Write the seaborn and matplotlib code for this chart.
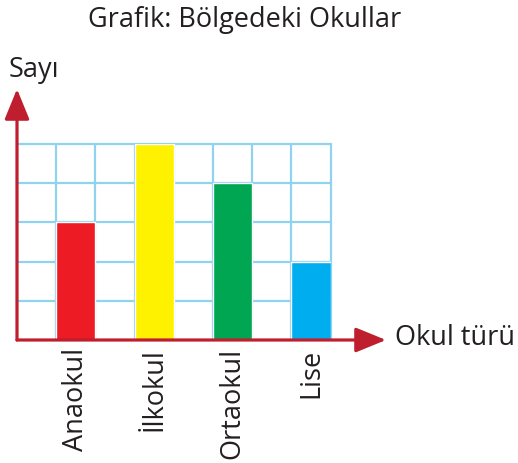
import matplotlib
matplotlib.use("Agg")
import matplotlib.pyplot as plt
import seaborn as sns
import numpy as np

# data
categories = ["Anaokul", "İlkokul", "Ortaokul", "Lise"]
counts = [3, 5, 4, 2]
bar_colors = ["#ed1c24", "#fff200", "#00a651", "#00aeef"]

title = "Grafik: Bölgedeki Okullar"
y_label = "Sayı"
x_label = "Okul türü"

sns.set_style("white")
plt.rcParams['font.family'] = ['Open Sans', 'DejaVu Sans']
FS = 19.5

W, H = 518, 463
fig = plt.figure(figsize=(W / 100, H / 100), dpi=100)
# axes box = grid area in pixels
gx0, gx1, gy0, gy1 = 17, 330.5, 144, 340
ax = fig.add_axes([gx0 / W, (H - gy1) / H, (gx1 - gx0) / W, (gy1 - gy0) / H])

grid_col = "#8fd3ef"
axis_col = "#be1e2d"
ymax = max(counts)
xlo, xhi = -0.75, len(categories) - 0.75

# grid
for yy in range(1, ymax + 1):
    ax.plot([xlo, xhi], [yy, yy], color=grid_col, lw=1.6, zorder=1, clip_on=False)
for xx in np.arange(xlo + 0.5, xhi + 0.01, 0.5):
    ax.plot([xx, xx], [0, ymax], color=grid_col, lw=1.6, zorder=1, clip_on=False)

sns.barplot(x=categories, y=counts, hue=categories, palette=bar_colors,
            width=0.5, saturation=1, legend=False, ax=ax, zorder=2)

ax.set_xlim(xlo, xhi)
ax.set_ylim(0, ymax)
for s in ax.spines.values():
    s.set_visible(False)
ax.set_yticks([])
ax.tick_params(axis="x", length=0, pad=6)
ax.set_xticks(range(len(categories)))
ax.set_xticklabels(categories, rotation=90, fontsize=FS, color="#231f20")
ax.set_xlabel("")
ax.set_ylabel("")

# red axes with arrows
x_tip = xlo + (386 - gx0) / ((gx1 - gx0) / (xhi - xlo))
y_tip = (gy1 - 89) / ((gy1 - gy0) / ymax)
arrow = dict(arrowstyle="-|>,head_length=1.1,head_width=0.45", color=axis_col,
             lw=2.3, mutation_scale=17, shrinkA=0, shrinkB=0)
ax.annotate("", xy=(x_tip, 0), xytext=(xlo, 0), arrowprops=arrow,
            annotation_clip=False, zorder=5)
ax.annotate("", xy=(xlo, y_tip), xytext=(xlo, 0), arrowprops=arrow,
            annotation_clip=False, zorder=5)

fig.text(245 / W, 1 - 20 / H, title, ha="center", va="center", fontsize=FS, color="#231f20")
fig.text(9 / W, 1 - 70 / H, y_label, ha="left", va="center", fontsize=FS, color="#231f20")
fig.text(395 / W, 1 - 338 / H, x_label, ha="left", va="center", fontsize=FS, color="#231f20")

fig.savefig("out.png", dpi=100)
